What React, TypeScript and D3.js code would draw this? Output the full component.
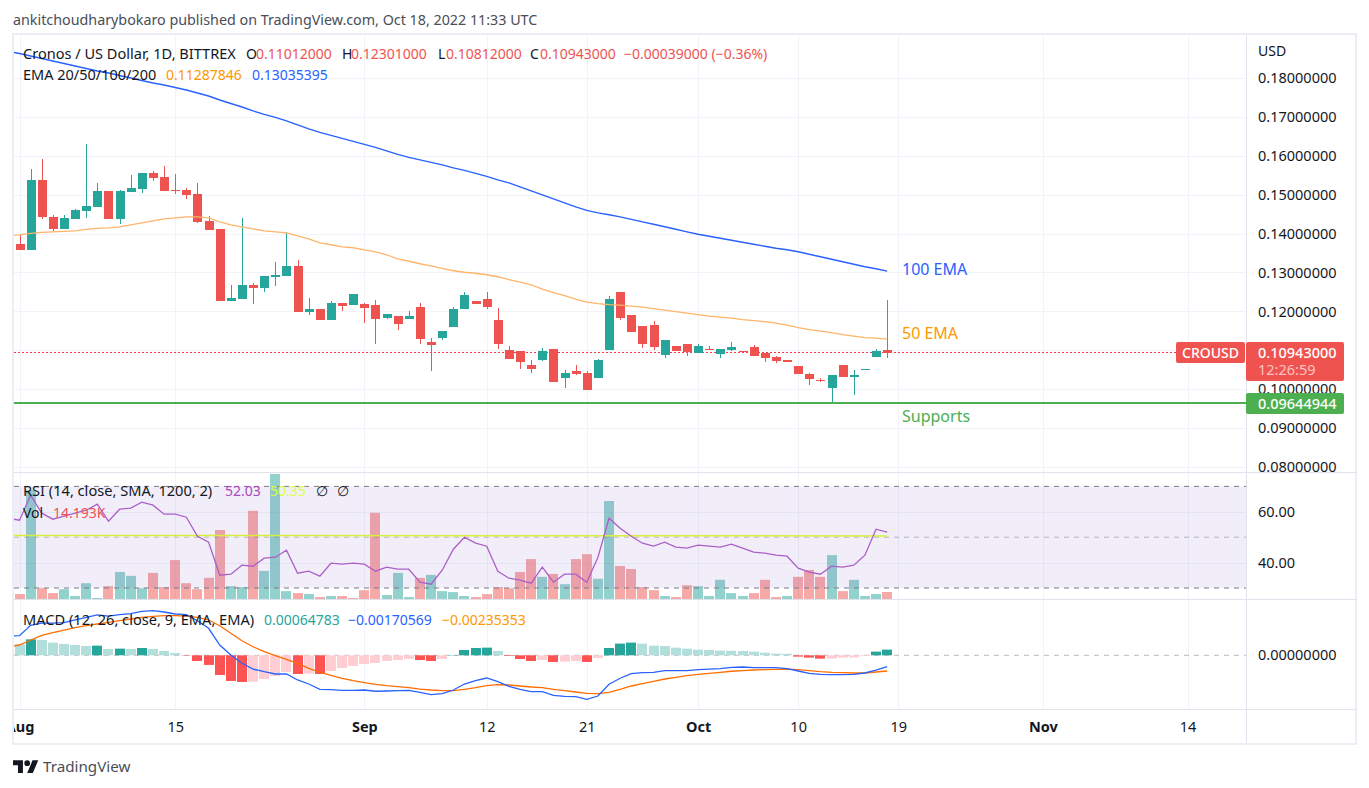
import React, { useEffect, useRef } from "react";
import * as d3 from "d3";

const WIDTH = 1369;
const HEIGHT = 788;
const FONT = "'Noto Sans', sans-serif";

const UP = "#26a69a";
const DOWN = "#ef5350";

// Aug 1 -> Oct 18 2022, daily
const firstDay = new Date(Date.UTC(2022, 7, 1));

const opens = [
  0.13738, 0.13566, 0.15381, 0.14431, 0.14123, 0.1438, 0.14585, 0.14688, 0.15099, 0.1438,
  0.15073, 0.1515, 0.15561, 0.15458, 0.15125, 0.15125, 0.15022, 0.14329, 0.14123, 0.12275,
  0.12326, 0.12685, 0.12608, 0.12891, 0.12917, 0.13173, 0.11992, 0.12069, 0.11787, 0.12223,
  0.12172, 0.12198, 0.12172, 0.11838, 0.1189, 0.11813, 0.12121, 0.11222, 0.11325, 0.11607,
  0.12069, 0.12275, 0.12326, 0.11787, 0.11017, 0.10991, 0.10632, 0.1076, 0.11042, 0.10298,
  0.10478, 0.10426, 0.10298, 0.11017, 0.12506, 0.11915, 0.11633, 0.11659, 0.10888, 0.11119,
  0.11171, 0.1094, 0.11042, 0.10914, 0.11017, 0.10991, 0.11094, 0.1094, 0.10837, 0.1076,
  0.10606, 0.10401, 0.10246, 0.10041, 0.10632, 0.10323, 0.10503, 0.10837, 0.11012,
];
const highs = [
  0.13969, 0.15664, 0.1592, 0.14483, 0.14483, 0.14637, 0.16306, 0.15304, 0.15099, 0.15125,
  0.1551, 0.15561, 0.15612, 0.15741, 0.15535, 0.15176, 0.15304, 0.14457, 0.14123, 0.12685,
  0.14406, 0.12737, 0.12917, 0.13276, 0.14046, 0.13327, 0.12352, 0.12069, 0.12275, 0.12223,
  0.12454, 0.12223, 0.123, 0.11941, 0.1189, 0.12018, 0.12223, 0.11325, 0.11504, 0.12121,
  0.12506, 0.12275, 0.12506, 0.12095, 0.11119, 0.10991, 0.1076, 0.11068, 0.11042, 0.10503,
  0.10632, 0.10478, 0.10786, 0.12403, 0.12506, 0.11915, 0.11633, 0.11761, 0.11273, 0.11119,
  0.11171, 0.11171, 0.11119, 0.11042, 0.11222, 0.10991, 0.11145, 0.1094, 0.10863, 0.1076,
  0.10606, 0.10426, 0.10298, 0.10375, 0.10632, 0.10503, 0.10529, 0.11042, 0.12301,
];
const lows = [
  0.13566, 0.13566, 0.1438, 0.14072, 0.14123, 0.1438, 0.14406, 0.14688, 0.1438, 0.14252,
  0.15073, 0.15047, 0.15356, 0.15099, 0.15022, 0.14893, 0.14277, 0.14098, 0.12275, 0.12275,
  0.12326, 0.12198, 0.12506, 0.1266, 0.12917, 0.11992, 0.11915, 0.11787, 0.11787, 0.12018,
  0.12172, 0.1171, 0.11171, 0.11813, 0.1153, 0.11813, 0.11171, 0.10478, 0.11273, 0.11607,
  0.12069, 0.12198, 0.12069, 0.11042, 0.10786, 0.10529, 0.10426, 0.10734, 0.10195, 0.10041,
  0.10375, 0.0999, 0.10298, 0.11017, 0.11787, 0.11479, 0.11068, 0.11017, 0.10811, 0.10991,
  0.10863, 0.1094, 0.11017, 0.10811, 0.10991, 0.10965, 0.10863, 0.10709, 0.10683, 0.10709,
  0.10401, 0.10118, 0.10195, 0.09682, 0.10323, 0.09861, 0.10503, 0.10837, 0.10812,
];
const closes = [
  0.13566, 0.15381, 0.14414, 0.14123, 0.14406, 0.14611, 0.14714, 0.15099, 0.1438, 0.15099,
  0.15176, 0.15561, 0.15433, 0.15099, 0.15099, 0.14996, 0.14303, 0.14098, 0.12275, 0.12352,
  0.12685, 0.12608, 0.12917, 0.12942, 0.13173, 0.11992, 0.12069, 0.11787, 0.12223, 0.12146,
  0.12454, 0.12095, 0.11813, 0.11941, 0.11684, 0.1189, 0.11299, 0.11145, 0.11504, 0.12069,
  0.12429, 0.12198, 0.12121, 0.11171, 0.10786, 0.10709, 0.10529, 0.10991, 0.10195, 0.10426,
  0.10401, 0.0999, 0.1076, 0.12326, 0.11838, 0.11479, 0.11171, 0.11094, 0.11273, 0.10991,
  0.10965, 0.11119, 0.11017, 0.11042, 0.11094, 0.10965, 0.10863, 0.10811, 0.10734, 0.10709,
  0.10401, 0.10272, 0.10221, 0.10375, 0.10323, 0.10375, 0.10529, 0.10991, 0.10943,
];

// the line series start one day earlier, the left edge cuts them
const ema50 = [
  0.13956, 0.13969, 0.14008, 0.14033, 0.14046, 0.14059, 0.14072, 0.14111, 0.14136, 0.14149,
  0.14175, 0.14226, 0.14277, 0.14329, 0.1438, 0.14406, 0.14431, 0.14431, 0.14406, 0.14303,
  0.14226, 0.14175, 0.14123, 0.14072, 0.14046, 0.14021, 0.13944, 0.13867, 0.13764, 0.13713,
  0.13661, 0.13636, 0.13584, 0.13533, 0.13456, 0.13353, 0.13289, 0.13225, 0.13173, 0.13109,
  0.13045, 0.13006, 0.12981, 0.12942, 0.12891, 0.12814, 0.1275, 0.12685, 0.1257, 0.1248,
  0.12403, 0.12313, 0.12236, 0.12198, 0.12172, 0.12159, 0.12134, 0.12108, 0.12069, 0.12031,
  0.11992, 0.11954, 0.11915, 0.11877, 0.11851, 0.11825, 0.11787, 0.11761, 0.11736, 0.11697,
  0.11646, 0.11582, 0.1153, 0.11492, 0.11453, 0.11402, 0.11363, 0.11325, 0.11312, 0.11288,
];
const ema100 = [
  0.1868, 0.18629, 0.18565, 0.18501, 0.18436, 0.18372, 0.18308, 0.18244, 0.1818, 0.18128,
  0.18064, 0.18, 0.17936, 0.17872, 0.1782, 0.17756, 0.17692, 0.17615, 0.17538, 0.17435,
  0.17345, 0.17255, 0.17153, 0.17063, 0.16986, 0.16896, 0.16793, 0.16691, 0.16601, 0.16524,
  0.16447, 0.1637, 0.16293, 0.16216, 0.16126, 0.16036, 0.15959, 0.15895, 0.15831, 0.15766,
  0.15689, 0.15625, 0.15548, 0.15471, 0.15381, 0.15304, 0.15202, 0.15099, 0.14996, 0.14893,
  0.14791, 0.14688, 0.14598, 0.14534, 0.14483, 0.14431, 0.14367, 0.14303, 0.14239, 0.14175,
  0.14111, 0.14046, 0.13982, 0.13931, 0.13879, 0.13828, 0.13777, 0.13725, 0.13674, 0.13623,
  0.13584, 0.13533, 0.13469, 0.13404, 0.1334, 0.13276, 0.13212, 0.13148, 0.13096, 0.13035,
];

const volumes = [
  10, 221, 22, 12, 20, 6, 32, 2, 26, 55,
  47, 22, 53, 24, 79, 32, 20, 43, 140, 26,
  24, 179, 57, 254, 16, 12, 10, 4, 6, 6,
  2, 18, 175, 8, 53, 4, 43, 49, 16, 14,
  6, 4, 10, 24, 22, 55, 81, 45, 51, 30,
  81, 91, 41, 199, 67, 61, 24, 18, 6, 4,
  28, 26, 6, 39, 12, 6, 12, 39, 4, 6,
  45, 59, 45, 89, 16, 39, 6, 10, 14.193,
];
// volume has its own colour, it does not always follow the candle
const volumeUpDays = [
  1, 4, 5, 6, 7, 9, 10, 11, 19, 20, 22, 23, 24, 26, 28, 33, 34, 35, 37, 38, 39, 40, 47, 49, 52,
  53, 58, 61, 62, 63, 64, 65, 69, 73, 75, 76, 77,
];

const rsi = [
  57.48, 56.69, 66.54, 59.45, 57.09, 58.27, 59.45, 60.63, 62.99, 56.3,
  61.02, 61.42, 63.78, 62.6, 59.06, 59.06, 57.87, 50.39, 48.03, 35.04,
  35.43, 38.98, 38.58, 41.73, 42.13, 44.88, 35.83, 36.61, 34.65, 39.76,
  39.37, 39.76, 39.37, 36.61, 38.19, 37.4, 37.4, 32.28, 31.5, 37.01,
  45.28, 50, 47.64, 46.46, 36.61, 33.86, 33.07, 31.89, 38.19, 32.28,
  35.43, 35.43, 32.28, 42.13, 57.48, 53.54, 50.39, 47.64, 46.46, 48.03,
  46.06, 45.67, 46.85, 46.46, 46.06, 47.24, 45.67, 44.09, 43.7, 42.91,
  42.52, 37.8, 36.22, 35.43, 38.58, 38.19, 38.98, 42.91, 53.15, 52.03,
];
const rsiSmaEnds = [50.7, 50.5];

const macdHist = [
  0.00167, 0.00242, 0.00232, 0.00192, 0.00172, 0.00157, 0.00141, 0.00146, 0.00096, 0.00101,
  0.00096, 0.00111, 0.00096, 0.00066, 0.00035, -0.00005, -0.00086, -0.00146, -0.00298, -0.00389,
  -0.00404, -0.00399, -0.00359, -0.00313, -0.00253, -0.00283, -0.00278, -0.00283, -0.00237, -0.00192,
  -0.00162, -0.00131, -0.00116, -0.00086, -0.00071, -0.00056, -0.00071, -0.00086, -0.00056, 0.00005,
  0.00081, 0.00111, 0.00116, 0.00066, -0.0001, -0.00056, -0.00086, -0.00071, -0.00101, -0.00096,
  -0.00086, -0.00101, -0.0004, 0.00111, 0.00177, 0.00192, 0.00177, 0.00146, 0.00141, 0.00116,
  0.00101, 0.00086, 0.00081, 0.00071, 0.00068, 0.00066, 0.00056, 0.0004, 0.00025, 0.00023,
  -0.0002, -0.00035, -0.00051, -0.00048, -0.00035, -0.00033, -0.0001, 0.00056, 0.00086,
];
const macdLine = [
  0.00292, 0.00297, 0.00455, 0.00489, 0.00489, 0.00494, 0.00535, 0.00576, 0.00611, 0.00595,
  0.00615, 0.0063, 0.00667, 0.00676, 0.00656, 0.00626, 0.00615, 0.00524, 0.00409, 0.00156,
  0.00005, -0.00121, -0.00208, -0.00248, -0.00283, -0.00283, -0.00374, -0.00435, -0.00515, -0.00521,
  -0.0053, -0.0053, -0.00526, -0.00545, -0.00541, -0.00536, -0.0053, -0.00561, -0.00597, -0.00582,
  -0.00526, -0.00435, -0.00385, -0.00344, -0.004, -0.0047, -0.00515, -0.00551, -0.00551, -0.00606,
  -0.00621, -0.00627, -0.00667, -0.00617, -0.00439, -0.00348, -0.00279, -0.00264, -0.00258, -0.00233,
  -0.00233, -0.00233, -0.00218, -0.00208, -0.00203, -0.00182, -0.00177, -0.00188, -0.00188, -0.00188,
  -0.00203, -0.00238, -0.00273, -0.00288, -0.00294, -0.00294, -0.00288, -0.00268, -0.00223, -0.00171,
];
const macdSignal = [
  0.0013, 0.00156, 0.00232, 0.00303, 0.00342, 0.00383, 0.00418, 0.00448, 0.00474, 0.005,
  0.00524, 0.0055, 0.00576, 0.00591, 0.006, 0.006, 0.00595, 0.00576, 0.00535, 0.00448,
  0.00333, 0.00221, 0.0013, 0.00055, -0.00006, -0.00061, -0.00121, -0.00197, -0.00256, -0.00303,
  -0.00348, -0.00385, -0.00415, -0.00439, -0.00461, -0.00476, -0.00491, -0.00511, -0.00526, -0.00536,
  -0.00536, -0.00515, -0.00491, -0.00461, -0.00445, -0.0045, -0.00465, -0.0048, -0.00491, -0.00515,
  -0.00536, -0.00556, -0.00576, -0.00582, -0.00561, -0.00515, -0.00465, -0.0043, -0.00394, -0.00359,
  -0.00333, -0.00309, -0.00288, -0.00273, -0.00258, -0.00242, -0.00233, -0.00223, -0.00218, -0.00212,
  -0.00208, -0.00218, -0.00233, -0.00248, -0.00258, -0.00264, -0.00268, -0.00268, -0.00253, -0.00238,
];

const priceTicks = [0.18, 0.17, 0.16, 0.15, 0.14, 0.13, 0.12, 0.11, 0.1, 0.09, 0.08];
const rsiTicks = [60, 40];
const rsiBands = [70, 50, 30];
const timeTicks: [number, number, string, boolean][] = [
  [7, 1, "Aug", true],
  [7, 15, "15", false],
  [8, 1, "Sep", true],
  [8, 12, "12", false],
  [8, 21, "21", false],
  [9, 1, "Oct", true],
  [9, 10, "10", false],
  [9, 19, "19", false],
  [10, 1, "Nov", true],
  [10, 14, "14", false],
];

const lastPrice = 0.10943;
const supportPrice = 0.09644944;

export default function App() {
  const ref = useRef<SVGSVGElement | null>(null);

  useEffect(() => {
    if (!ref.current) return;
    const svg = d3.select(ref.current);
    svg.selectAll("*").remove();

    const x = d3
      .scaleUtc()
      .domain([firstDay, new Date(Date.UTC(2022, 10, 14))])
      .range([19.5, 1187.5]);
    const day = (i: number) => d3.utcDay.offset(firstDay, i);
    const px = (i: number) => Math.round(x(day(i)));
    const tickDates = timeTicks.map(d => new Date(Date.UTC(2022, d[0], d[1])));

    const yPrice = d3.scaleLinear().domain([0.08, 0.18]).range([467, 78]);
    const yRsi = d3.scaleLinear().domain([30, 70]).range([588, 486.4]);
    const yVol = d3.scaleLinear().domain([0, 203]).range([599, 499]);
    const yMacd = d3.scaleLinear().domain([-0.006, 0.006]).range([694.9, 615.7]);

    const defs = svg.append("defs");
    const clip = (id: string, y0: number, y1: number) =>
      defs
        .append("clipPath")
        .attr("id", id)
        .append("rect")
        .attr("x", 14)
        .attr("y", y0)
        .attr("width", 1232)
        .attr("height", y1 - y0);
    clip("main", 35, 472);
    clip("mid", 473, 599);
    clip("low", 600, 709);
    clip("time", 710, 743);

    svg.attr("font-family", FONT).attr("font-size", 14);

    // grid
    const grid = svg.append("g").attr("stroke", "#f0f3fa").attr("fill", "none");
    grid
      .selectAll("line.v")
      .data(tickDates)
      .enter()
      .append("line")
      .attr("x1", d => Math.round(x(d)) + 0.5)
      .attr("x2", d => Math.round(x(d)) + 0.5)
      .attr("y1", 35)
      .attr("y2", 709);
    grid
      .selectAll("line.h")
      .data(priceTicks)
      .enter()
      .append("line")
      .attr("x1", 14)
      .attr("x2", 1246)
      .attr("y1", d => Math.round(yPrice(d)) + 0.5)
      .attr("y2", d => Math.round(yPrice(d)) + 0.5);
    grid
      .selectAll("line.r")
      .data(rsiTicks)
      .enter()
      .append("line")
      .attr("x1", 14)
      .attr("x2", 1246)
      .attr("y1", d => Math.round(yRsi(d)) + 0.5)
      .attr("y2", d => Math.round(yRsi(d)) + 0.5);

    // frame and pane separators
    svg
      .append("rect")
      .attr("x", 13)
      .attr("y", 34)
      .attr("width", 1343)
      .attr("height", 710)
      .attr("fill", "none")
      .attr("stroke", "#eceef6")
      .attr("stroke-width", 2);
    const seps = svg.append("g").attr("stroke", "#e0e3eb");
    [472.5, 599.5, 709.5].forEach(y =>
      seps.append("line").attr("x1", 14).attr("x2", 1356).attr("y1", y).attr("y2", y)
    );
    seps.append("line").attr("x1", 1246.5).attr("x2", 1246.5).attr("y1", 35).attr("y2", 743);

    // volume, the rsi band sits on top of it
    const mid = svg.append("g").attr("clip-path", "url(#mid)");
    mid
      .selectAll("rect.vol")
      .data(volumes)
      .enter()
      .append("rect")
      .attr("x", (d, i) => px(i) - 5)
      .attr("width", 10)
      .attr("y", d => yVol(d))
      .attr("height", d => yVol(0) - yVol(d))
      .attr("fill", (d, i) => (volumeUpDays.includes(i) ? UP : DOWN))
      .attr("fill-opacity", 0.5);

    mid
      .append("rect")
      .attr("x", 14)
      .attr("width", 1232)
      .attr("y", yRsi(70))
      .attr("height", yRsi(30) - yRsi(70))
      .attr("fill", "#7e57c2")
      .attr("fill-opacity", 0.1);
    mid
      .selectAll("line.band")
      .data(rsiBands)
      .enter()
      .append("line")
      .attr("x1", 14)
      .attr("x2", 1246)
      .attr("y1", d => yRsi(d))
      .attr("y2", d => yRsi(d))
      .attr("stroke", "#787b86")
      .attr("stroke-opacity", d => (d === 50 ? 0.5 : 1))
      .attr("stroke-dasharray", "5 5");

    mid
      .append("line")
      .attr("x1", 14)
      .attr("x2", px(78))
      .attr("y1", yRsi(rsiSmaEnds[0]))
      .attr("y2", yRsi(rsiSmaEnds[1]))
      .attr("stroke", "#d9f03a")
      .attr("stroke-width", 1.5);
    const rsiPath = d3
      .line<number>()
      .x((d, i) => x(day(i - 1)))
      .y(d => yRsi(d));
    mid
      .append("path")
      .attr("d", rsiPath(rsi))
      .attr("fill", "none")
      .attr("stroke", "#ab5fc9")
      .attr("stroke-width", 1.3);

    // candles
    const main = svg.append("g").attr("clip-path", "url(#main)");

    main
      .append("line")
      .attr("x1", 14)
      .attr("x2", 1176)
      .attr("y1", Math.round(yPrice(lastPrice)) - 0.5)
      .attr("y2", Math.round(yPrice(lastPrice)) - 0.5)
      .attr("stroke", "#f23645")
      .attr("stroke-dasharray", "2 2");

    const colour = (i: number) => (closes[i] >= opens[i] ? UP : DOWN);
    const candles = main.selectAll("g.candle").data(opens).enter().append("g");
    candles
      .append("rect")
      .attr("x", (d, i) => px(i))
      .attr("width", 1)
      .attr("y", (d, i) => Math.round(yPrice(highs[i])))
      .attr("height", (d, i) => Math.max(1, Math.round(yPrice(lows[i])) - Math.round(yPrice(highs[i]))))
      .attr("fill", (d, i) => colour(i));
    candles
      .append("rect")
      .attr("x", (d, i) => px(i) - 4)
      .attr("width", 9)
      .attr("y", (d, i) => Math.round(yPrice(Math.max(d, closes[i]))))
      .attr("height", (d, i) =>
        Math.max(1, Math.round(yPrice(Math.min(d, closes[i]))) - Math.round(yPrice(Math.max(d, closes[i]))))
      )
      .attr("fill", (d, i) => colour(i));

    const emaPath = d3
      .line<number>()
      .x((d, i) => x(day(i - 1)))
      .y(d => yPrice(d));
    main
      .append("path")
      .attr("d", emaPath(ema50))
      .attr("fill", "none")
      .attr("stroke", "#ffb46a")
      .attr("stroke-width", 1.3);
    main
      .append("path")
      .attr("d", emaPath(ema100))
      .attr("fill", "none")
      .attr("stroke", "#2962ff")
      .attr("stroke-width", 1.4);

    main
      .append("line")
      .attr("x1", 14)
      .attr("x2", 1246)
      .attr("y1", yPrice(supportPrice))
      .attr("y2", yPrice(supportPrice))
      .attr("stroke", "#4caf50")
      .attr("stroke-width", 2);

    // macd
    const low = svg.append("g").attr("clip-path", "url(#low)");
    low
      .append("line")
      .attr("x1", 14)
      .attr("x2", 1246)
      .attr("y1", yMacd(0))
      .attr("y2", yMacd(0))
      .attr("stroke", "#787b86")
      .attr("stroke-opacity", 0.5)
      .attr("stroke-dasharray", "5 5");
    low
      .selectAll("rect.hist")
      .data(macdHist)
      .enter()
      .append("rect")
      .attr("x", (d, i) => px(i) - 5)
      .attr("width", 10)
      .attr("y", d => yMacd(Math.max(d, 0)))
      .attr("height", d => Math.abs(yMacd(d) - yMacd(0)))
      .attr("fill", (d, i) => {
        const rising = i === 0 ? false : d > macdHist[i - 1];
        if (d >= 0) return rising ? UP : "#b2dfdb";
        return rising ? "#ffcdd2" : "#ff5252";
      });
    const macdPath = d3
      .line<number>()
      .x((d, i) => x(day(i - 1)))
      .y(d => yMacd(d));
    low
      .append("path")
      .attr("d", macdPath(macdSignal))
      .attr("fill", "none")
      .attr("stroke", "#ff6d00")
      .attr("stroke-width", 1.3);
    low
      .append("path")
      .attr("d", macdPath(macdLine))
      .attr("fill", "none")
      .attr("stroke", "#2962ff")
      .attr("stroke-width", 1.3);

    // axes
    const rightAxis = (scale: d3.ScaleLinear<number, number>, ticks: number[], digits: number) => {
      const g = svg
        .append("g")
        .attr("transform", "translate(1258,0)")
        .call(
          d3
            .axisRight(scale)
            .tickValues(ticks)
            .tickSize(0)
            .tickPadding(0)
            .tickFormat(d => (d as number).toFixed(digits))
        );
      g.select(".domain").remove();
      g.selectAll("text").attr("fill", "#131722").attr("font-family", FONT).attr("font-size", 14.5);
    };
    rightAxis(yPrice, priceTicks, 8);
    rightAxis(yRsi, rsiTicks, 2);
    rightAxis(yMacd, [0], 8);

    const timeWrap = svg.append("g").attr("clip-path", "url(#time)");
    const timeAxis = timeWrap
      .append("g")
      .attr("transform", "translate(0,722)")
      .call(
        d3
          .axisBottom(x)
          .tickValues(tickDates)
          .tickSize(0)
          .tickPadding(0)
          .tickFormat((d, i) => timeTicks[i][2])
      );
    timeAxis.select(".domain").remove();
    timeAxis
      .selectAll("text")
      .attr("fill", "#131722")
      .attr("font-family", FONT)
      .attr("font-size", 14.5)
      .attr("font-weight", (d, i) => (timeTicks[i][3] ? 700 : 400));

    const text = (
      s: string,
      tx: number,
      ty: number,
      fill: string,
      size = 14,
      weight = 400,
      anchor = "start"
    ) =>
      svg
        .append("text")
        .attr("x", tx)
        .attr("y", ty)
        .attr("fill", fill)
        .attr("font-size", size)
        .attr("font-weight", weight)
        .attr("text-anchor", anchor)
        .text(s);

    const INK = "#131722";
    text("USD", 1258, 56, INK, 14);

    // last price and support tags
    svg.append("rect").attr("x", 1176).attr("y", 342).attr("width", 69).attr("height", 21).attr("rx", 2).attr("fill", DOWN);
    text("CROUSD", 1210.5, 357.5, "#fff", 14, 500, "middle");
    svg.append("rect").attr("x", 1246).attr("y", 342).attr("width", 98).attr("height", 39).attr("rx", 2).attr("fill", DOWN);
    text(lastPrice.toFixed(8), 1258, 357.5, "#fff", 14.5, 500);
    text("12:26:59", 1258, 375, "#fbc4c2", 14.5);
    svg.append("rect").attr("x", 1246).attr("y", 393).attr("width", 98).attr("height", 21).attr("rx", 2).attr("fill", "#4caf50");
    text(supportPrice.toFixed(8), 1258, 408.5, "#fff", 14.5, 500);

    // annotations
    text("100 EMA", 902, 275, "#2962ff", 16);
    text("50 EMA", 902, 339, "#ff9800", 16);
    text("Supports", 902, 422, "#4caf50", 16);

    // title and legends
    text("ankitchoudharybokaro published on TradingView.com, Oct 18, 2022 11:33 UTC", 13, 25, "#4a4e58", 14.3);

    text("Cronos / US Dollar, 1D, BITTREX", 23, 59, INK, 14.55);
    text("O", 246, 59, INK, 14);
    text("0.11012000", 256, 59, DOWN, 14);
    text("H", 342, 59, INK, 14);
    text("0.12301000", 351, 59, DOWN, 14);
    text("L", 438, 59, INK, 14);
    text("0.10812000", 446, 59, DOWN, 14);
    text("C", 530, 59, INK, 14);
    text("0.10943000", 540, 59, DOWN, 14);
    text("\u22120.00039000 (\u22120.36%)", 624, 59, DOWN, 14);

    text("EMA 20/50/100/200", 23, 80, INK, 14.5);
    text("0.11287846", 166, 80, "#ff9800", 14);
    text("0.13035395", 252, 80, "#2962ff", 14);

    text("RSI (14, close, SMA, 1200, 2)", 23, 496, INK, 14.6);
    text("52.03", 225, 496, "#ab47bc", 14);
    text("50.35", 270, 496, "#dcff3c", 14);
    text("\u2205", 316, 496, INK, 14);
    text("\u2205", 337, 496, INK, 14);
    text("Vol", 23, 518, INK, 14);
    text("14.193K", 53, 518, DOWN, 14);

    text("MACD (12, 26, close, 9, EMA, EMA)", 23, 625, INK, 14.6);
    text("0.00064783", 264, 625, UP, 14);
    text("\u22120.00170569", 348, 625, "#2962ff", 14);
    text("\u22120.00235353", 442, 625, "#ff9800", 14);

    // logo
    const logo = svg.append("g").attr("transform", "translate(13,757.5) scale(0.71)").attr("fill", "#131722");
    logo.append("path").attr("d", "M14 22H7V11H0V4h14v18zM28 22h-8l7.5-18h8L28 22z");
    logo.append("circle").attr("cx", 20).attr("cy", 8).attr("r", 4);
    text("TradingView", 43, 772, "#4a4e58", 15.2);
  }, []);

  return (
    <div style={{ position: "fixed", left: 0, top: 0 }}>
      <svg ref={ref} width={WIDTH} height={HEIGHT} style={{ display: "block", background: "#fff" }} />
    </div>
  );
}
